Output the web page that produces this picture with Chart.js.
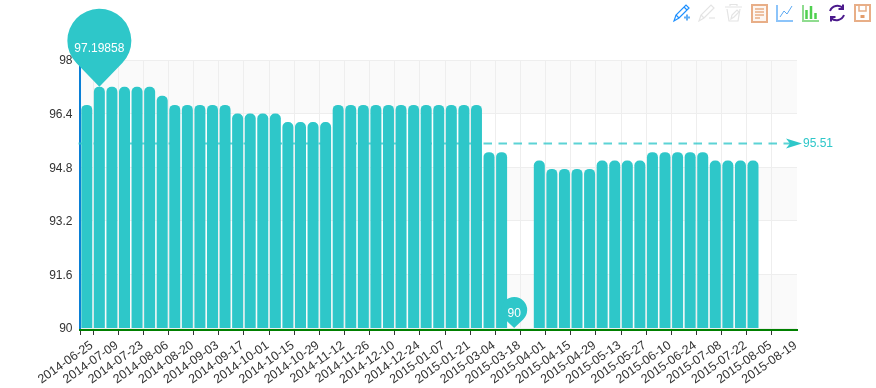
<!DOCTYPE html>
<html>
<head>
<meta charset="utf-8">
<title>Chart</title>
<script src="https://cdn.jsdelivr.net/npm/chart.js@4/dist/chart.umd.min.js"></script>
<style>
  html, body { margin: 0; padding: 0; background: #fff; }
  #wrap { position: relative; width: 876px; height: 388px; overflow: hidden; }
  #toolbar { position: absolute; left: 0; top: 0; }
</style>
</head>
<body>
<div id="wrap">
  <canvas id="chart" width="876" height="388"></canvas>
  <svg id="toolbar" width="876" height="30" fill="none">
    <!-- pencil + -->
    <g stroke="#1e90ff" stroke-width="1.2">
      <path d="M674 21l2-6L686 5l3 3-10 10z"/>
      <path d="M676 15l3 3M684 7l3 3"/>
    </g>
    <path d="M684 17.5h6M687 14.5v6" stroke="#62aef5" stroke-width="2"/>
    <!-- pencil - -->
    <g stroke="#e4e4e4" stroke-width="1.2">
      <path d="M699 21l2-6L711 5l3 3-10 10z"/>
      <path d="M701 15l3 3"/>
      <path d="M709 18h6"/>
    </g>
    <!-- trash -->
    <g stroke="#e4e4e4" stroke-width="1.2">
      <path d="M725 7h17M730 6V4.500h7V6"/>
      <path d="M727 9l2 12h9l2-12"/>
      <path d="M731 19l1-4 5-5 2 2-5 5z"/>
    </g>
    <!-- data view -->
    <rect x="752" y="5" width="15" height="17" stroke="#e8ae87" stroke-width="2" fill="#fdf6f1"/>
    <path d="M755 9h9M755 12h9M755 15h9M755 18h5" stroke="#e8ae87" stroke-width="1.500"/>
    <!-- line -->
    <path d="M777 5v16h16" stroke="#8cc4fa" stroke-width="2"/>
    <path d="M780 17l4-6 3 3 5-8" stroke="#5ca9f2" stroke-width="1"/>
    <!-- bar -->
    <path d="M803 5v16h16" stroke="#8fdc8f" stroke-width="2"/>
    <path d="M806.500 10v9M811 6v13M815.500 13v6" stroke="#4fd04f" stroke-width="2.500"/>
    <!-- restore -->
    <g stroke="#4b1a8c" stroke-width="2">
      <path d="M830 11a8 8 0 0 1 13-3"/>
      <path d="M844 15a8 8 0 0 1-13 3"/>
      <path d="M843 4.500v4.500h-4.500M831 21.500V17h4.500"/>
    </g>
    <!-- save -->
    <rect x="855" y="5" width="15" height="16" stroke="#e8ae87" stroke-width="2"/>
    <path d="M859 5v6h7V5" stroke="#e8ae87" stroke-width="1.500"/>
    <rect x="860.500" y="15" width="4" height="3" fill="#e39c6b"/>
  </svg>
</div>
<script>
const categories = [
  '2014-06-25','2014-07-02','2014-07-09','2014-07-16','2014-07-23','2014-07-30','2014-08-06','2014-08-13',
  '2014-08-20','2014-08-27','2014-09-03','2014-09-10','2014-09-17','2014-09-24','2014-10-01','2014-10-08',
  '2014-10-15','2014-10-22','2014-10-29','2014-11-05','2014-11-12','2014-11-19','2014-11-26','2014-12-03',
  '2014-12-10','2014-12-17','2014-12-24','2014-12-31','2015-01-07','2015-01-14','2015-01-21','2015-02-25',
  '2015-03-04','2015-03-11','2015-03-18','2015-03-25','2015-04-01','2015-04-08','2015-04-15','2015-04-22',
  '2015-04-29','2015-05-06','2015-05-13','2015-05-20','2015-05-27','2015-06-03','2015-06-10','2015-06-17',
  '2015-06-24','2015-07-01','2015-07-08','2015-07-15','2015-07-22','2015-07-29','2015-08-05','2015-08-12',
  '2015-08-19'
];
const values = [
  96.66, 97.19858, 97.2, 97.2, 97.2, 97.2, 96.93, 96.66,
  96.66, 96.66, 96.66, 96.66, 96.4, 96.4, 96.4, 96.4,
  96.15, 96.15, 96.15, 96.15, 96.66, 96.66, 96.66, 96.66,
  96.66, 96.66, 96.66, 96.66, 96.66, 96.66, 96.66, 96.66,
  95.25, 95.25, 90, null, 95, 94.75, 94.75, 94.75,
  94.75, 95, 95, 95, 95, 95.25, 95.25, 95.25,
  95.25, 95.25, 95, 95, 95, 95, null, null,
  null
];
const yTicks = [90, 91.6, 93.2, 94.8, 96.4, 98];
const meanValue = 95.51;
const maxIndex = 1;
const minIndex = 34;
const maxLabel = '97.19858';
const minLabel = '90';

const TEAL = '#2ec7c9';
const FONT = '"Liberation Sans", Arial, sans-serif';

function drawPin(ctx, x, y, r, d, text, textDy) {
  const cy = y - d;
  const t = Math.acos(r / d);
  ctx.beginPath();
  ctx.moveTo(x, y);
  ctx.arc(x, cy, r, Math.PI / 2 - t, Math.PI / 2 + t, true);
  ctx.closePath();
  ctx.fillStyle = TEAL;
  ctx.fill();
  ctx.fillStyle = '#fff';
  ctx.font = '12px ' + FONT;
  ctx.textAlign = 'center';
  ctx.textBaseline = 'middle';
  ctx.fillText(text, x, cy + textDy);
}

const bandsPlugin = {
  id: 'bands',
  beforeDraw(chart) {
    const { ctx, chartArea, scales } = chart;
    ctx.save();
    ctx.fillStyle = '#fafafa';
    for (let i = 0; i < yTicks.length - 1; i += 2) {
      const top = scales.y.getPixelForValue(yTicks[yTicks.length - 1 - i]);
      const bottom = scales.y.getPixelForValue(yTicks[yTicks.length - 2 - i]);
      ctx.fillRect(chartArea.left, top, chartArea.right - chartArea.left, bottom - top);
    }
    ctx.restore();
  }
};

const marksPlugin = {
  id: 'marks',
  afterDatasetsDraw(chart) {
    const { ctx, chartArea, scales } = chart;
    const y = scales.y.getPixelForValue(meanValue);
    const end = chartArea.right + 5;
    ctx.save();

    // axis lines sit just outside the bars
    ctx.lineWidth = 2;
    ctx.strokeStyle = '#0a7fd6';
    ctx.beginPath();
    ctx.moveTo(chartArea.left - 0.5, chartArea.top);
    ctx.lineTo(chartArea.left - 0.5, chartArea.bottom + 2);
    ctx.stroke();
    ctx.strokeStyle = '#008000';
    ctx.beginPath();
    ctx.moveTo(chartArea.left - 1.5, chartArea.bottom + 2);
    ctx.lineTo(chartArea.right + 1, chartArea.bottom + 2);
    ctx.stroke();

    // mean line
    ctx.strokeStyle = 'rgba(46,199,201,0.78)';
    ctx.setLineDash([8.5, 6.5]);
    ctx.beginPath();
    ctx.moveTo(chartArea.left - 2, y);
    ctx.lineTo(end - 12, y);
    ctx.stroke();
    ctx.setLineDash([]);

    ctx.fillStyle = TEAL;
    ctx.beginPath();
    ctx.moveTo(end, y);
    ctx.lineTo(end - 16, y - 5);
    ctx.lineTo(end - 12, y);
    ctx.lineTo(end - 16, y + 5);
    ctx.closePath();
    ctx.fill();

    ctx.font = '12px ' + FONT;
    ctx.textAlign = 'left';
    ctx.textBaseline = 'middle';
    ctx.fillText(meanValue.toFixed(2), end + 1, y);

    // max / min pins
    drawPin(ctx, scales.x.getPixelForValue(maxIndex), scales.y.getPixelForValue(values[maxIndex]), 32, 46, maxLabel, 8);
    drawPin(ctx, scales.x.getPixelForValue(minIndex), scales.y.getPixelForValue(values[minIndex]), 13, 18, minLabel, 4);
    ctx.restore();
  }
};

const shownLine = index => index === 0 || index % 2 === 1;

new Chart(document.getElementById('chart').getContext('2d'), {
  type: 'bar',
  data: {
    labels: categories,
    datasets: [{
      data: values,
      backgroundColor: TEAL,
      borderRadius: 5,
      borderSkipped: false,
      barPercentage: 0.875,
      categoryPercentage: 1
    }]
  },
  plugins: [bandsPlugin, marksPlugin],
  options: {
    responsive: false,
    animation: false,
    events: [],
    layout: { padding: { top: 60, right: 79, left: 0, bottom: 0 } },
    plugins: { legend: { display: false }, tooltip: { enabled: false } },
    scales: {
      x: {
        offset: true,
        afterFit(scale) { scale.height = 60; },
        border: { display: false },
        grid: {
          offset: true,
          tickLength: 7,
          color: c => shownLine(c.index) ? '#eeeeee' : 'transparent',
          tickColor: c => shownLine(c.index) ? '#333333' : 'transparent'
        },
        ticks: {
          autoSkip: false,
          minRotation: 35,
          maxRotation: 35,
          labelOffset: 5,
          padding: 3,
          color: '#333',
          font: { family: FONT, size: 12.5 },
          callback(value, index) { return index % 2 === 0 ? categories[index] : ''; }
        }
      },
      y: {
        min: 90,
        max: 98,
        afterFit(scale) { scale.width = 80.5; },
        afterBuildTicks(scale) { scale.ticks = yTicks.map(v => ({ value: v })); },
        border: { display: false },
        grid: { color: '#eeeeee', drawTicks: false },
        ticks: {
          padding: 8,
          labelOffset: 1,
          color: '#333',
          font: { family: FONT, size: 12 },
          callback: value => String(value)
        }
      }
    }
  }
});
</script>
</body>
</html>
